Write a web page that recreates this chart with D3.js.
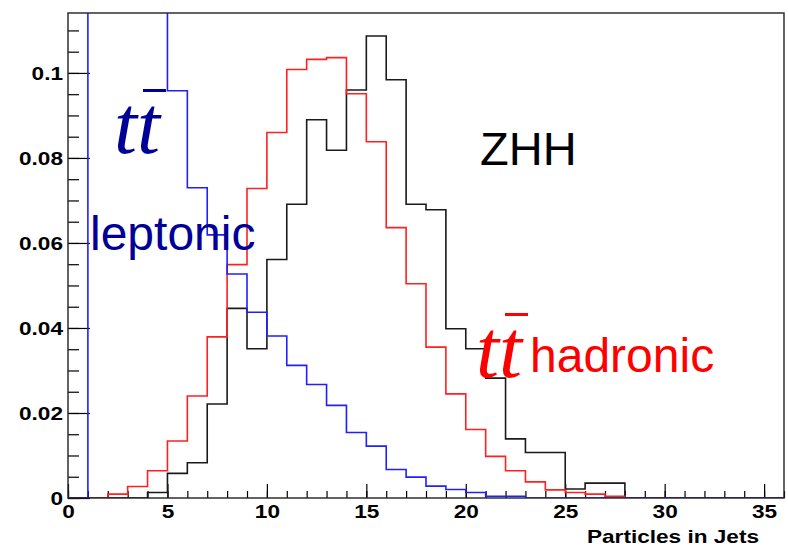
<!DOCTYPE html>
<html>
<head>
<meta charset="utf-8">
<script src="https://cdn.jsdelivr.net/npm/d3@7"></script>
<style>
  body { margin: 0; background: #fff; }
  svg { display: block; }
</style>
</head>
<body>
<svg id="chart"></svg>
<script>
// bin edges 0..36, width 1
const binEdges = d3.range(0, 37);

// ttbar leptonic (blue) - bins 1-4 run off the top of the frame
const leptonic = [0, 0.16, 0.19, 0.17, 0.13, 0.0958, 0.0730, 0.0619, 0.0527, 0.0437,
  0.0381, 0.0312, 0.0267, 0.0218, 0.0154, 0.0122, 0.0067, 0.0049, 0.0028, 0.0020,
  0.0013, 0.0004, 0.0004, 0, 0, 0, 0, 0, 0, 0, 0, 0, 0, 0, 0, 0];

// ttbar hadronic (red)
const hadronic = [0, 0, 0.0009, 0.0027, 0.0064, 0.0134, 0.0240, 0.0379, 0.0549, 0.0728,
  0.0860, 0.1008, 0.1032, 0.1036, 0.0951, 0.0838, 0.0636, 0.0504, 0.0355, 0.0245,
  0.0161, 0.0098, 0.0064, 0.0038, 0.0019, 0.0013, 0.0009, 0.0004, 0, 0, 0, 0, 0, 0, 0, 0];

// ZHH signal (black)
const zhh = [0, 0, 0, 0, 0.0013, 0.0058, 0.0083, 0.0221, 0.0446, 0.0351,
  0.0561, 0.0691, 0.0890, 0.0818, 0.0960, 0.1087, 0.0984, 0.0691, 0.0678, 0.0398,
  0.0351, 0.0282, 0.0139, 0.0107, 0.0107, 0.0021, 0.0035, 0.0035, 0, 0, 0, 0, 0, 0, 0, 0];

const xTicks = [0, 5, 10, 15, 20, 25, 30, 35];
const yTicks = [0, 0.02, 0.04, 0.06, 0.08, 0.1];
const xTitle = "Particles in Jets";

const W = 788, H = 549;
const plot = { left: 68, right: 784, top: 13, bottom: 498 };

const svg = d3.select('#chart')
  .attr('width', W)
  .attr('height', H);

const x = d3.scaleLinear().domain([0, 36]).range([plot.left, plot.right]);
const y = d3.scaleLinear().domain([0, 0.1141]).range([plot.bottom, plot.top]);

svg.append('clipPath')
  .attr('id', 'frame-clip')
  .append('rect')
  .attr('x', plot.left)
  .attr('y', plot.top)
  .attr('width', plot.right - plot.left)
  .attr('height', plot.bottom - plot.top);

// minor ticks first, then major
const yMinor = d3.range(0, 0.1125, 0.005);
svg.append('g')
  .attr('transform', `translate(${plot.left},0)`)
  .call(d3.axisLeft(y).tickValues(yMinor).tickSize(-11).tickFormat(''))
  .call(g => g.select('.domain').remove());

const yAxis = svg.append('g')
  .attr('class', 'y-axis')
  .attr('transform', `translate(${plot.left},0)`)
  .call(d3.axisLeft(y).tickValues(yTicks).tickSize(-22).tickPadding(5)
    .tickFormat(d => d === 0 ? '0' : d3.format('')(+d.toFixed(2))));
yAxis.select('.domain').remove();

svg.append('g')
  .attr('transform', `translate(0,${plot.bottom})`)
  .call(d3.axisBottom(x).tickValues(d3.range(0, 37)).tickSize(-7).tickFormat(''))
  .call(g => g.select('.domain').remove());

const xAxis = svg.append('g')
  .attr('class', 'x-axis')
  .attr('transform', `translate(0,${plot.bottom})`)
  .call(d3.axisBottom(x).tickValues(xTicks).tickSize(-14).tickPadding(7));
xAxis.select('.domain').remove();

svg.selectAll('.tick line').attr('stroke', '#000').attr('stroke-width', 1.2);
svg.selectAll('.y-axis text, .x-axis text')
  .attr('fill', '#000')
  .style('font-family', '"Liberation Sans", Arial, sans-serif')
  .style('font-weight', 'bold')
  .style('font-size', '19px');

// the original labels are a wider bold face, stretch them a bit
svg.selectAll('.y-axis text, .x-axis text').each(function() {
  const len = this.getComputedTextLength();
  d3.select(this).attr('textLength', len * 1.19).attr('lengthAdjust', 'spacingAndGlyphs');
});

// histograms
const stepLine = d3.line()
  .x(d => x(d[0]))
  .y(d => y(d[1]))
  .curve(d3.curveStepAfter);

function histPoints(vals) {
  const pts = [[0, 0]];
  vals.forEach((v, i) => pts.push([binEdges[i], v]));
  pts.push([binEdges[vals.length], vals[vals.length - 1]]);
  pts.push([binEdges[vals.length], 0]);
  return pts;
}

const series = [
  { name: 'zhh', values: zhh, color: '#1a1a1a' },
  { name: 'hadronic', values: hadronic, color: '#ff2020' },
  { name: 'leptonic', values: leptonic, color: '#2020ff' }
];

svg.append('g')
  .attr('clip-path', 'url(#frame-clip)')
  .selectAll('path')
  .data(series)
  .enter()
  .append('path')
  .attr('class', d => 'hist ' + d.name)
  .attr('fill', 'none')
  .attr('stroke', d => d.color)
  .attr('stroke-width', 1.6)
  .attr('d', d => stepLine(histPoints(d.values)));

// frame
svg.append('rect')
  .attr('x', plot.left)
  .attr('y', plot.top)
  .attr('width', plot.right - plot.left)
  .attr('height', plot.bottom - plot.top)
  .attr('fill', 'none')
  .attr('stroke', '#222')
  .attr('stroke-width', 1.4);

// axis title
svg.append('text')
  .attr('x', 759)
  .attr('y', 543)
  .attr('text-anchor', 'end')
  .attr('textLength', 172)
  .attr('lengthAdjust', 'spacingAndGlyphs')
  .style('font-family', '"Liberation Sans", Arial, sans-serif')
  .style('font-weight', 'bold')
  .style('font-size', '19px')
  .text(xTitle);

// annotations
const sans = '"Liberation Sans", Arial, sans-serif';
const serif = '"Liberation Serif", "Times New Roman", serif';

function ttbar(xPos, baseline, color) {
  svg.append('text')
    .attr('x', xPos)
    .attr('y', baseline)
    .attr('fill', color)
    .attr('textLength', 46)
    .attr('lengthAdjust', 'spacingAndGlyphs')
    .style('font-family', serif)
    .style('font-style', 'italic')
    .style('font-size', '82px')
    .text('tt');
  svg.append('rect')
    .attr('x', xPos + 29)
    .attr('y', baseline - 64)
    .attr('width', 23)
    .attr('height', 3)
    .attr('fill', color);
}

ttbar(114, 153, '#000099');
svg.append('text')
  .attr('x', 90).attr('y', 250)
  .attr('fill', '#000099')
  .style('font-family', sans)
  .style('font-size', '48px')
  .text('leptonic');

svg.append('text')
  .attr('x', 480).attr('y', 165)
  .attr('fill', '#000')
  .style('font-family', sans)
  .style('font-size', '47px')
  .text('ZHH');

ttbar(476, 377, '#ff0000');
svg.append('text')
  .attr('x', 530).attr('y', 372)
  .attr('fill', '#ff0000')
  .style('font-family', sans)
  .style('font-size', '48px')
  .text('hadronic');
</script>
</body>
</html>
